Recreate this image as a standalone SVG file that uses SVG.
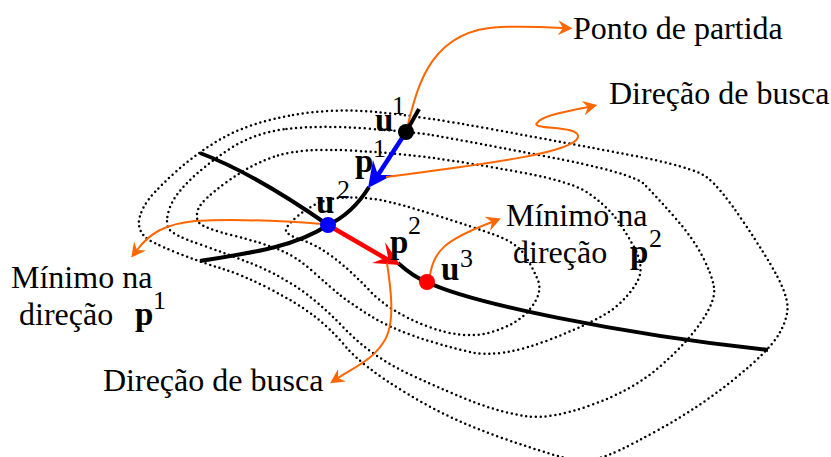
<svg xmlns="http://www.w3.org/2000/svg" width="831" height="457" viewBox="0 0 831 457">
<style>
.contour{fill:none;stroke:#000;stroke-width:2.5;stroke-linecap:round;stroke-dasharray:0 4.9}
.path{fill:none;stroke:#000;stroke-width:4}
.lead{fill:none;stroke:#ff6600;stroke-width:2;marker-end:url(#oh)}
text{font-family:"Liberation Serif","Times New Roman",serif;fill:#000}
.t{font-size:32px}
.b{font-size:33px;font-weight:bold}
.s{font-size:26px}
</style>
<defs>
<marker id="oh" markerUnits="userSpaceOnUse" markerWidth="15" markerHeight="15" refX="5" refY="7.5" orient="auto"><path d="M0,0L14.5,7.5L0,15L5,7.5Z" fill="#ff6600"/></marker>
</defs>
<rect width="831" height="457" fill="#fff"/>
<g id="contours">
<path class="contour" d="M293,115Q333,108 376.5,112Q420,116 493.5,129.5Q567,143 630,155Q693,167 706.5,177Q720,187 743.5,222Q767,257 777,276Q787,295 787.5,306.5Q788,318 779,334Q770,350 735,378.5Q700,407 656.5,431Q613,455 599,458Q585,461 571,459Q557,457 503.5,438.5Q450,420 406,393Q362,366 346,347Q330,328 313.5,315.5Q297,303 270,289Q243,275 221.5,268.5Q200,262 175,252Q150,242 145,237Q140,232 139,225Q138,218 144,206.5Q150,195 175,172.5Q200,150 226.5,136Q253,122 293,115Z"/>
<path class="contour" d="M286.5,129Q320,125 366.5,128.5Q413,132 431.5,135Q450,138 541.5,155.5Q633,173 644,184Q655,195 674,216.5Q693,238 702.5,256.5Q712,275 714,287.5Q716,300 701.5,321.5Q687,343 660,366.5Q633,390 591.5,405Q550,420 525,416Q500,412 475,402.5Q450,393 411,375Q372,357 344.5,328.5Q317,300 295,286Q273,272 251.5,263.5Q230,255 201.5,245Q173,235 169,229Q165,223 169,210Q173,197 188,182Q203,167 228,150Q253,133 286.5,129Z"/>
<path class="contour" d="M278,155.5Q303,148 350,150.5Q397,153 433.5,158Q470,163 521.5,172.5Q573,182 589,193.5Q605,205 614,216Q623,227 634,247Q645,267 637.5,281Q630,295 615,307.5Q600,320 550,339.5Q500,359 470,352Q440,345 414,336Q388,327 369,315Q350,303 340,295Q330,287 313.5,272Q297,257 280,250Q263,243 233,235.5Q203,228 199,222.5Q195,217 198.5,208.5Q202,200 227.5,181.5Q253,163 278,155.5Z"/>
<path class="contour" d="M346.5,197.5Q363,197 380,200Q397,203 435,215Q473,227 495,235Q517,243 525,255.5Q533,268 538,280.5Q543,293 530,309Q517,325 490,332.5Q463,340 426.5,326Q390,312 370,291Q350,270 333.5,257.5Q317,245 302,240Q287,235 286,231Q285,227 296,217.5Q307,208 318.5,203Q330,198 346.5,197.5Z"/>
</g>
<g id="connectors">
<path class="lead" d="M407,128C417,90 428,30 500,27C525,26 545,27 563,28"/>
<path class="path" d="M419,109L406,132"/>
<path class="path" d="M369,187C358,205 345,217 328,225C295,247 250,253 200,261"/>
<path class="path" d="M200,153C240,168 285,195 328,225"/>
<path class="path" d="M398,263C408,272 416,278 427,282C470,303 620,334 768,350"/>
<path d="M406,132L376,178" fill="none" stroke="#0000ff" stroke-width="4.5"/>
<path d="M373,160L378,175L393,175L368,188Z" fill="#0000ff"/>
<path d="M328,225L390,261" fill="none" stroke="#ff0000" stroke-width="4.5"/>
<path d="M385,242L388,257L372,263L400,265Z" fill="#ff0000"/>
<path class="lead" d="M386,177C450,168 575,155 578,137C580,125 530,130 537,123C542,115 570,111 588,107"/>
<path class="lead" d="M429,283C432,250 445,240 492,222"/>
<path class="lead" d="M322,224C270,220 230,219 195,221C165,224 150,233 137,250"/>
<path class="lead" d="M387,263C391,290 396,325 383,343C372,360 355,367 338,378"/>
</g>
<g id="node-u1"><circle cx="406" cy="132" r="8" fill="#000"/><text class="b" x="375" y="131">u</text><text class="s" x="392" y="114">1</text></g>
<g id="node-u2"><circle cx="328" cy="225" r="8" fill="#0000ff"/><text class="b" x="316" y="213">u</text><text class="s" x="337" y="198">2</text></g>
<g id="node-u3"><circle cx="427" cy="282" r="8" fill="#ff0000"/><text class="b" x="441" y="280">u</text><text class="s" x="460" y="267">3</text></g>
<g id="label-p1"><text class="b" x="355" y="172">p</text><text class="s" x="373" y="157">1</text></g>
<g id="label-p2"><text class="b" x="390" y="253">p</text><text class="s" x="408" y="234">2</text></g>
<g id="label-ponto"><text class="t" x="573" y="39">Ponto de partida</text></g>
<g id="label-busca1"><text class="t" x="609" y="104">Direção de busca</text></g>
<g id="label-busca2"><text class="t" x="103" y="391">Direção de busca</text></g>
<g id="label-min1"><text class="t" x="11" y="288">Mínimo na</text><text class="t" x="19" y="325">direção</text><text class="b" x="135" y="325">p</text><text class="s" x="153" y="309">1</text></g>
<g id="label-min2"><text class="t" x="506" y="226">Mínimo na</text><text class="t" x="513" y="263">direção</text><text class="b" x="630" y="263">p</text><text class="s" x="649" y="247">2</text></g>
</svg>
